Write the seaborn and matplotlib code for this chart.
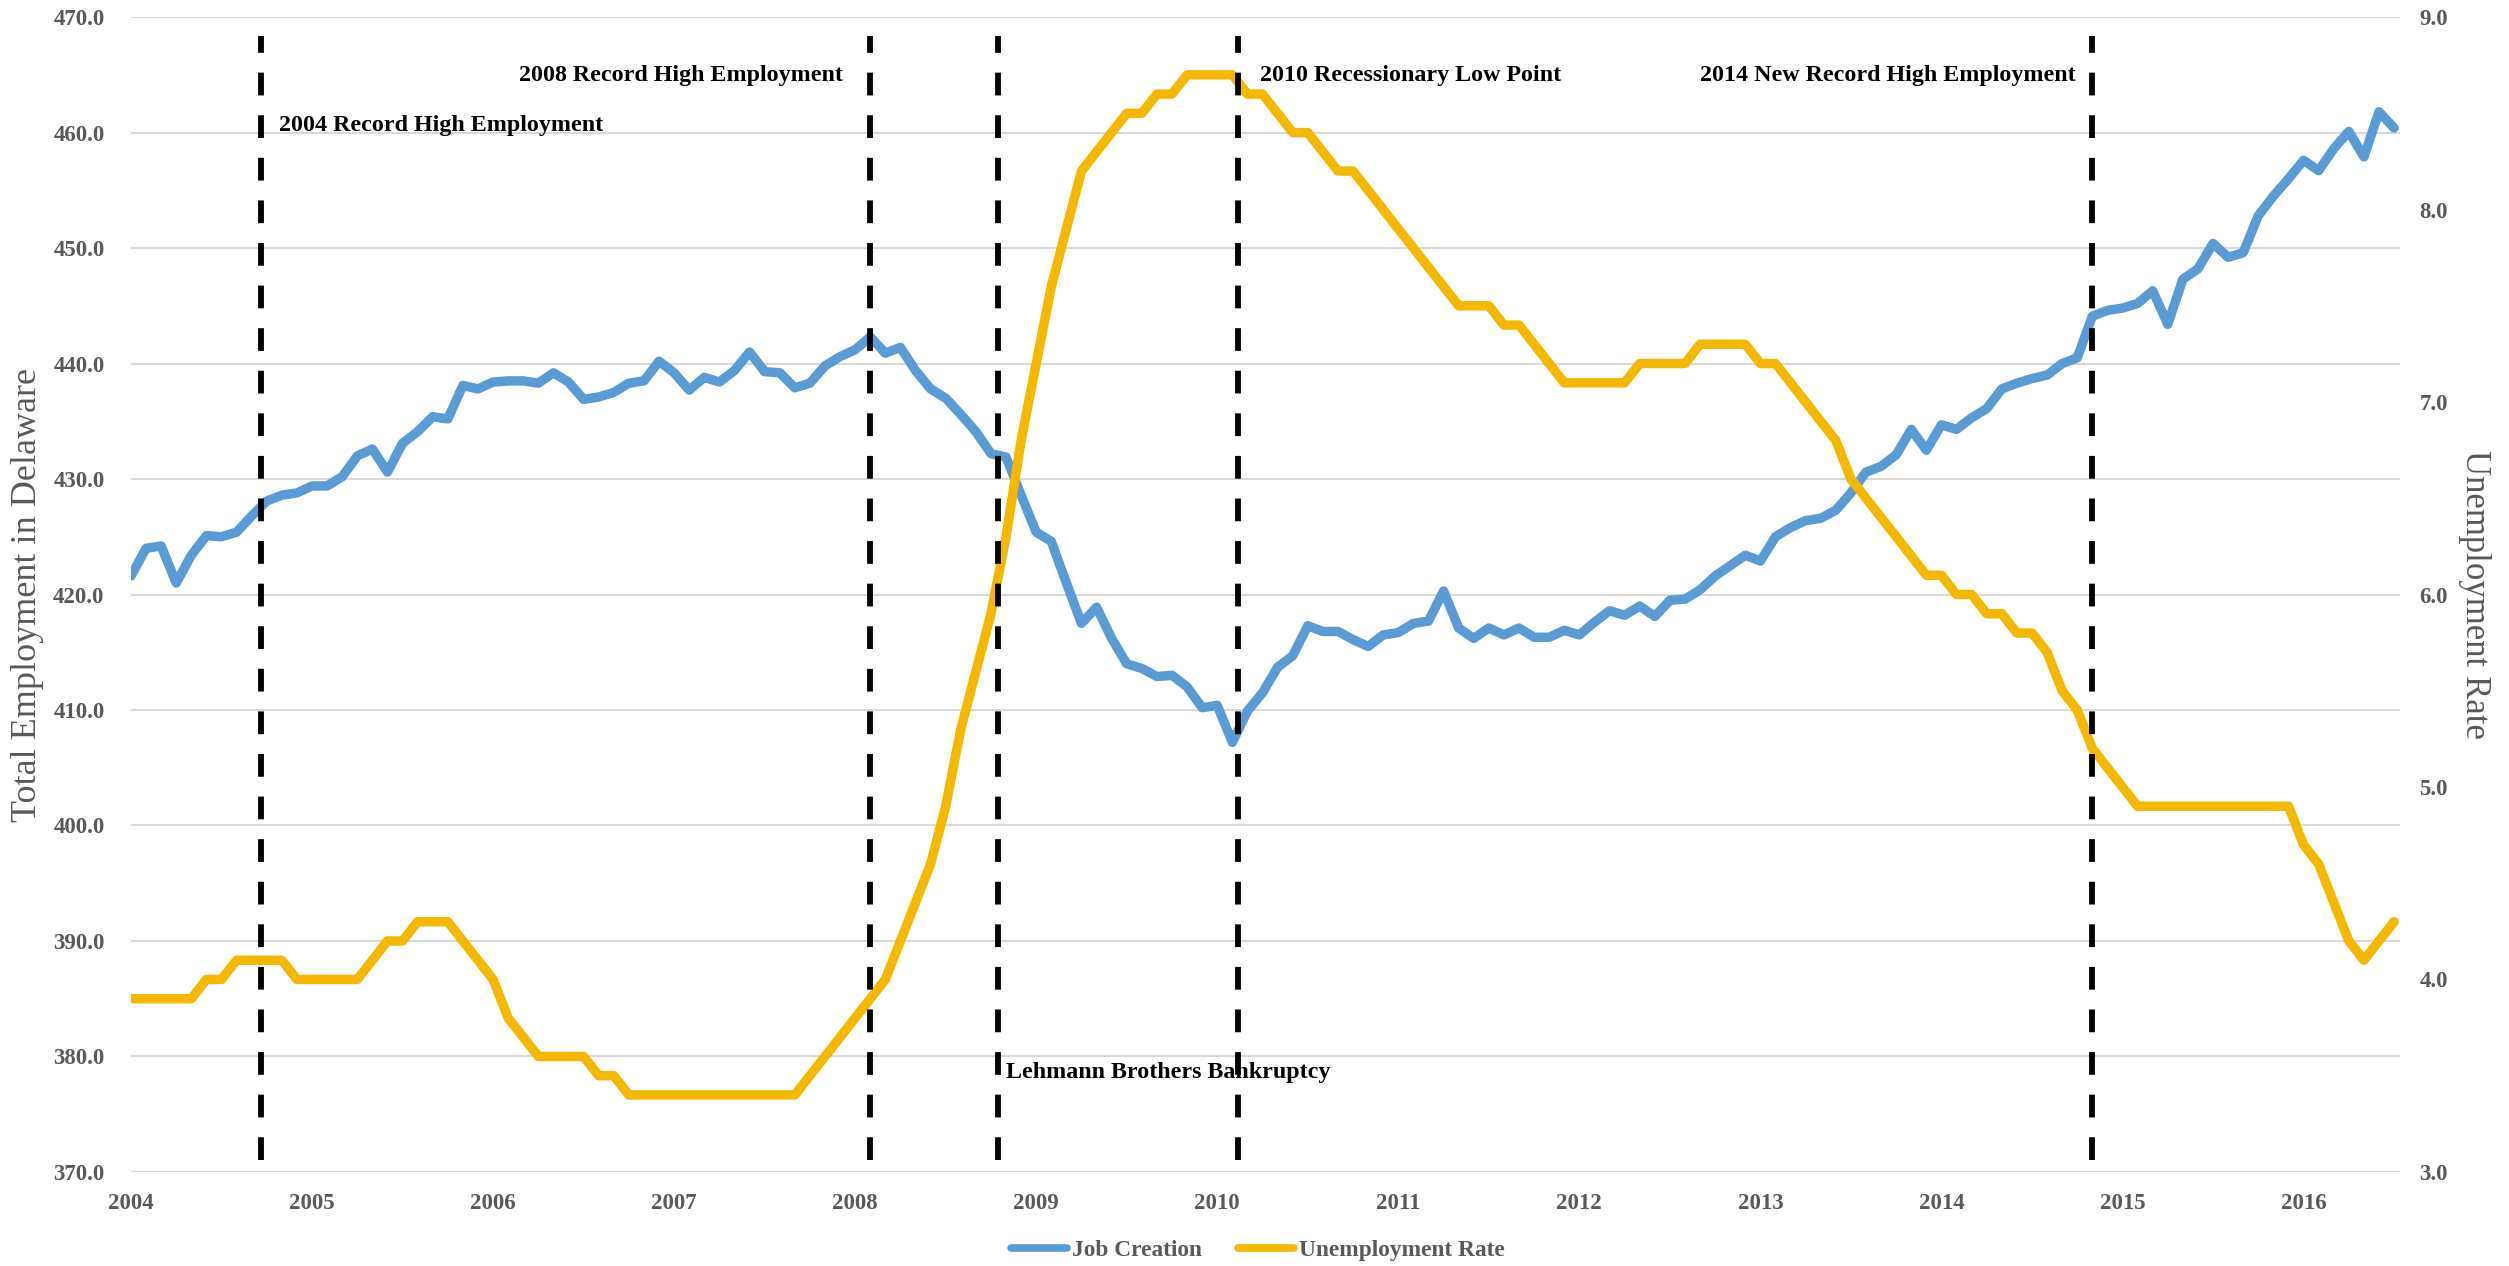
import numpy as np
import pandas as pd
import matplotlib
matplotlib.use("Agg")
import matplotlib.pyplot as plt
from matplotlib.lines import Line2D
import seaborn as sns

# Monthly values, Jan 2004 .. Jul 2016 (thousands employed / percent)
job_creation = [
    421.6, 424.0, 424.2, 421.0, 423.4, 425.1, 425.0, 425.4, 426.8, 428.1, 428.6, 428.8,
    429.4, 429.4, 430.2, 432.0, 432.6, 430.6, 433.1, 434.1, 435.4, 435.2, 438.1, 437.8,
    438.4, 438.5, 438.5, 438.3, 439.2, 438.4, 436.9, 437.1, 437.5, 438.3, 438.5, 440.2,
    439.2, 437.7, 438.8, 438.4, 439.4, 441.0, 439.3, 439.2, 437.9, 438.3, 439.8, 440.6,
    441.2, 442.3, 440.9, 441.4, 439.4, 437.8, 437.0, 435.6, 434.1, 432.2, 431.9, 428.6,
    425.4, 424.6, 421.0, 417.5, 418.9, 416.2, 414.0, 413.6, 412.9, 413.0, 412.0, 410.2,
    410.4, 407.2, 409.9, 411.5, 413.7, 414.7, 417.3, 416.8, 416.8, 416.1, 415.5, 416.5,
    416.7, 417.5, 417.7, 420.3, 417.1, 416.2, 417.1, 416.5, 417.1, 416.3, 416.3, 416.9,
    416.5, 417.6, 418.6, 418.2, 419.0, 418.1, 419.5, 419.6, 420.4, 421.6, 422.5, 423.4,
    422.9, 425.0, 425.8, 426.4, 426.6, 427.3, 428.8, 430.6, 431.1, 432.1, 434.3, 432.5,
    434.7, 434.3, 435.3, 436.1, 437.8, 438.3, 438.7, 439.0, 440.0, 440.5, 444.1, 444.6,
    444.8, 445.2, 446.3, 443.4, 447.3, 448.2, 450.4, 449.2, 449.6, 452.8, 454.5, 456.0,
    457.6, 456.7, 458.6, 460.1, 457.9, 461.8, 460.4,
]
unemployment_rate = [
    3.9, 3.9, 3.9, 3.9, 3.9, 4.0, 4.0, 4.1, 4.1, 4.1, 4.1, 4.0,
    4.0, 4.0, 4.0, 4.0, 4.1, 4.2, 4.2, 4.3, 4.3, 4.3, 4.2, 4.1,
    4.0, 3.8, 3.7, 3.6, 3.6, 3.6, 3.6, 3.5, 3.5, 3.4, 3.4, 3.4,
    3.4, 3.4, 3.4, 3.4, 3.4, 3.4, 3.4, 3.4, 3.4, 3.5, 3.6, 3.7,
    3.8, 3.9, 4.0, 4.2, 4.4, 4.6, 4.9, 5.3, 5.6, 5.9, 6.3, 6.8,
    7.2, 7.6, 7.9, 8.2, 8.3, 8.4, 8.5, 8.5, 8.6, 8.6, 8.7, 8.7,
    8.7, 8.7, 8.6, 8.6, 8.5, 8.4, 8.4, 8.3, 8.2, 8.2, 8.1, 8.0,
    7.9, 7.8, 7.7, 7.6, 7.5, 7.5, 7.5, 7.4, 7.4, 7.3, 7.2, 7.1,
    7.1, 7.1, 7.1, 7.1, 7.2, 7.2, 7.2, 7.2, 7.3, 7.3, 7.3, 7.3,
    7.2, 7.2, 7.1, 7.0, 6.9, 6.8, 6.6, 6.5, 6.4, 6.3, 6.2, 6.1,
    6.1, 6.0, 6.0, 5.9, 5.9, 5.8, 5.8, 5.7, 5.5, 5.4, 5.2, 5.1,
    5.0, 4.9, 4.9, 4.9, 4.9, 4.9, 4.9, 4.9, 4.9, 4.9, 4.9, 4.9,
    4.7, 4.6, 4.4, 4.2, 4.1, 4.2, 4.3,
]
year_labels = ["2004", "2005", "2006", "2007", "2008", "2009", "2010",
               "2011", "2012", "2013", "2014", "2015", "2016"]

# event markers, in months after Jan 2004
event_months = [8.6, 49.0, 57.45, 73.4, 130.0]
event_labels = ["2004 Record High Employment", "2008 Record High Employment",
                "Lehmann Brothers Bankruptcy", "2010 Recessionary Low Point",
                "2014 New Record High Employment"]

BLUE = "#5B9BD5"
GOLD = "#F5B800"
GREY = "#595959"

df = pd.DataFrame({
    "month": np.arange(len(job_creation)),
    "Job Creation": job_creation,
    "Unemployment Rate": unemployment_rate,
})

sns.set_style("white")
plt.rcParams["font.family"] = ["Liberation Serif", "DejaVu Serif"]

fig, ax = plt.subplots(figsize=(25.09, 12.66), dpi=100)
fig.subplots_adjust(left=0.0522, right=0.9566, top=0.9865, bottom=0.0743)
ax2 = ax.twinx()

sns.lineplot(data=df, x="month", y="Job Creation", ax=ax, color=BLUE,
             linewidth=6.8, legend=False, solid_capstyle="round", solid_joinstyle="round")
sns.lineplot(data=df, x="month", y="Unemployment Rate", ax=ax2, color=GOLD,
             linewidth=6.8, legend=False, solid_capstyle="round", solid_joinstyle="round")

# axes ranges / ticks
ax.set_xlim(0, 150.4)
ax.set_ylim(370, 470)
ax2.set_ylim(3, 9)
ax.set_xticks(np.arange(0, 12 * len(year_labels), 12))
ax.set_xticklabels(year_labels)
ax.set_yticks(np.arange(370, 471, 10))
ax.set_yticklabels([f"{v:.1f}" for v in np.arange(370, 471, 10)])
ax2.set_yticks(np.arange(3, 10, 1))
ax2.set_yticklabels([f"{v:.1f}" for v in np.arange(3, 10, 1)])

for a in (ax, ax2):
    for s in a.spines.values():
        s.set_visible(False)
    a.set_xlabel("")
ax.grid(axis="y", color="#D9D9D9", linewidth=1.5)
ax.grid(axis="x", visible=False)
ax2.grid(False)

tick_font = dict(family="Liberation Serif", size=16.5, weight="bold")
ax.tick_params(axis="y", length=0, pad=19, labelcolor=GREY)
ax.tick_params(axis="x", length=0, pad=15, labelcolor=GREY)
ax2.tick_params(axis="y", length=0, pad=14, labelcolor=GREY)
for lab in ax.get_xticklabels() + ax.get_yticklabels() + ax2.get_yticklabels():
    lab.set_fontproperties(tick_font)

ax.set_ylabel("Total Employment in Delaware", fontsize=26, color=GREY, va="center")
ax.yaxis.set_label_coords(-0.0458, 0.5)
ax2.set_ylabel("Unemployment Rate", fontsize=25, color=GREY, rotation=270, va="center")
ax2.yaxis.set_label_coords(1.033, 0.5)

# dashed event lines, drawn on top
ax2.vlines(event_months, 0.01, 0.984, transform=ax2.get_xaxis_transform(),
           colors="black", linewidth=4.2, linestyles=(0, (3.9, 3.4)), zorder=5)

ann = dict(fontsize=17.3, fontweight="bold", color="black", va="center")
ax.text(9.8, 460.6, event_labels[0], ha="left", **ann)
ax.text(47.2, 464.9, event_labels[1], ha="right", **ann)
ax.text(58.0, 378.6, event_labels[2], ha="left", **ann)
ax.text(74.8, 464.9, event_labels[3], ha="left", **ann)
ax.text(128.9, 464.9, event_labels[4], ha="right", **ann)

handles = [Line2D([], [], color=BLUE, linewidth=5.5, solid_capstyle="round"),
           Line2D([], [], color=GOLD, linewidth=5.5, solid_capstyle="round")]
leg = fig.legend(handles, ["Job Creation", "Unemployment Rate"], loc="center",
                 bbox_to_anchor=(0.5014, 0.012), ncol=2, frameon=False,
                 handlelength=2.4, handletextpad=0.2, columnspacing=1.55,
                 prop=dict(family="Liberation Serif", size=16.8, weight="bold"))
for t in leg.get_texts():
    t.set_color(GREY)

fig.savefig("out.png", dpi=100)
